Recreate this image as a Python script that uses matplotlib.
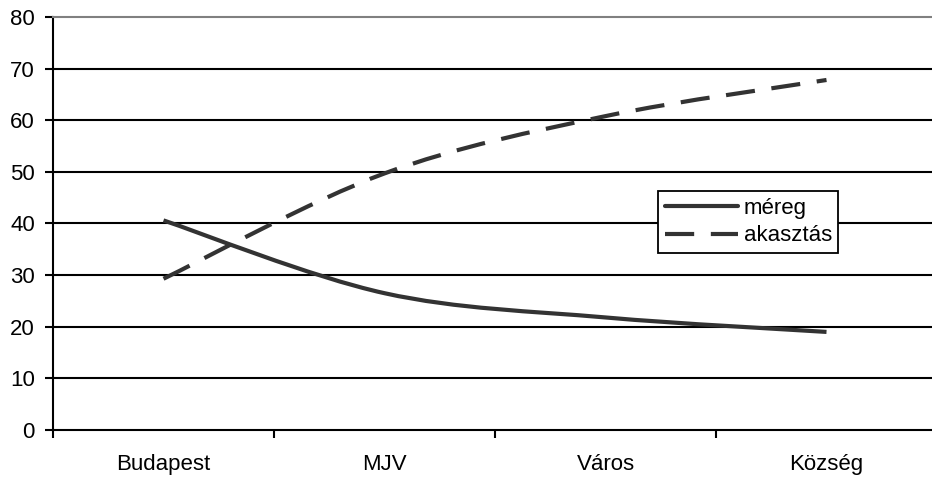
import matplotlib.pyplot as plt
from matplotlib.path import Path
from matplotlib.patches import PathPatch
from matplotlib.lines import Line2D

plt.rcParams['font.family'] = ['Liberation Sans', 'DejaVu Sans']

# Data
categories = ['Budapest', 'MJV', 'Város', 'Község']
mereg = [40.6, 26.5, 21.8, 19.0]
akasztas = [29.3, 49.7, 60.8, 67.8]
yticks = [0, 10, 20, 30, 40, 50, 60, 70, 80]

line_color = '#333333'
dash = (0, (7, 4))
fsize = 16


def smooth_path(xs, ys):
    # Catmull-Rom style cubic bezier through the points
    pts = list(zip(xs, ys))
    n = len(pts)
    verts = [pts[0]]
    codes = [Path.MOVETO]
    for i in range(n - 1):
        p0 = pts[max(i - 1, 0)]
        p1 = pts[i]
        p2 = pts[i + 1]
        p3 = pts[min(i + 2, n - 1)]
        c1 = (p1[0] + (p2[0] - p0[0]) / 6, p1[1] + (p2[1] - p0[1]) / 6)
        c2 = (p2[0] - (p3[0] - p1[0]) / 6, p2[1] - (p3[1] - p1[1]) / 6)
        verts += [c1, c2, p2]
        codes += [Path.CURVE4] * 3
    return Path(verts, codes)


fig = plt.figure(figsize=(9.32, 4.78), dpi=100)
ax = fig.add_axes([53 / 932, 48 / 478, 884 / 932, 413 / 478])

x = list(range(len(categories)))

ax.add_patch(PathPatch(smooth_path(x, mereg), fill=False, edgecolor=line_color,
                       linewidth=3, capstyle='butt', zorder=3))
ax.add_patch(PathPatch(smooth_path(x, akasztas), fill=False, edgecolor=line_color,
                       linewidth=3, linestyle=dash, capstyle='butt', zorder=3))

ax.set_xlim(-0.5, len(categories) - 0.5)
ax.set_ylim(0, 80)

# horizontal gridlines
for v in yticks[1:-1]:
    ax.axhline(v, color='black', linewidth=1.5, zorder=1)

ax.set_yticks(yticks)
ax.set_xticks([i - 0.5 for i in range(len(categories))])
ax.set_xticklabels([])
ax.set_xticks(x, minor=True)
ax.set_xticklabels(categories, minor=True)
ax.tick_params(axis='x', which='minor', length=0, pad=17, labelsize=fsize)
ax.tick_params(axis='x', which='major', direction='out', length=6, width=1.5)
ax.tick_params(axis='y', direction='out', length=6, width=1.5,
               labelsize=fsize, pad=7)

for s in ['left', 'bottom']:
    ax.spines[s].set_linewidth(1.5)
    ax.spines[s].set_color('black')
ax.spines['top'].set_color('#808080')
ax.spines['top'].set_linewidth(1.5)
ax.spines['right'].set_visible(False)

handles = [
    Line2D([], [], color=line_color, linewidth=3, solid_capstyle='round'),
    Line2D([], [], color=line_color, linewidth=3, linestyle=dash,
           dash_capstyle='butt'),
]
leg = ax.legend(handles, ['méreg', 'akasztás'], loc='upper left',
                bbox_to_anchor=(658 / 932, 1 - 191 / 478),
                bbox_transform=fig.transFigure, fontsize=fsize, frameon=True,
                fancybox=False, edgecolor='black', framealpha=1,
                handlelength=3.3, handletextpad=0.25, labelspacing=0.3,
                borderpad=0.3, borderaxespad=0)
leg.get_frame().set_linewidth(1.3)

fig.savefig('out.png', dpi=100)
